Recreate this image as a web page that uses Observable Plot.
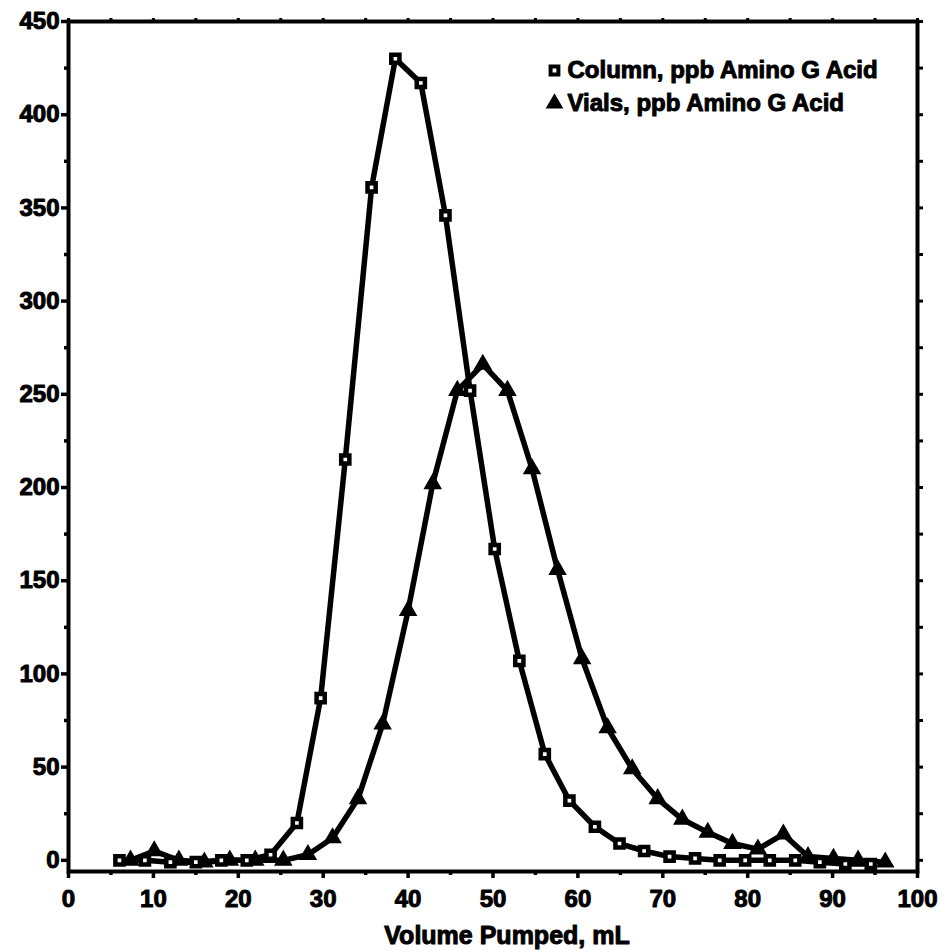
<!DOCTYPE html>
<html>
<head>
<meta charset="utf-8">
<script src="https://cdn.jsdelivr.net/npm/d3@7"></script>
<script src="https://cdn.jsdelivr.net/npm/@observablehq/plot@0.6"></script>
<style>
  html, body { margin: 0; padding: 0; background: #fff; }
  svg text { stroke: #000; stroke-width: 1px; stroke-linejoin: round; }
</style>
</head>
<body>
<div id="chart"></div>
<script>
// Column, ppb Amino G Acid (squares)
const columnVolume = [6, 9, 12, 15, 18, 21, 23.8, 26.9, 29.7, 32.6, 35.7, 38.5, 41.5, 44.4, 47.3, 50.2, 53.1, 56.1, 59, 62, 64.9, 67.8, 70.8, 73.8, 76.7, 79.7, 82.6, 85.6, 88.5, 91.5, 94.5];
const columnPpb    = [0, 0, -1, -1, 0, 0, 3, 20, 87, 215, 361, 430, 417, 346, 252, 167, 107, 57, 32, 18, 9, 5, 2, 1, 0, 0, 0, 0, -1, -2, -2];
// Vials, ppb Amino G Acid (triangles)
const vialsVolume = [7.3, 10.1, 13, 16, 19, 22, 25.3, 28.2, 31.1, 34.1, 37, 40, 42.9, 45.8, 48.8, 51.7, 54.6, 57.6, 60.5, 63.5, 66.4, 69.4, 72.3, 75.3, 78.2, 81.2, 84.2, 87.1, 90.1, 93, 96.2];
const vialsPpb    = [0, 5, 0, -1, 0, 0, 0, 3, 12, 33, 73, 134, 202, 252, 266, 252, 210, 156, 108, 71, 49, 33, 22, 15, 9, 6, 14, 2, 1, 0, -1];

const xMajor = [0, 10, 20, 30, 40, 50, 60, 70, 80, 90, 100];
const xMinor = [5, 15, 25, 35, 45, 55, 65, 75, 85, 95];
const yMajor = [0, 50, 100, 150, 200, 250, 300, 350, 400, 450];
const yMinor = [25, 75, 125, 175, 225, 275, 325, 375, 425];

const seriesNames = ["Column, ppb Amino G Acid", "Vials, ppb Amino G Acid"];
const xTitle = "Volume Pumped, mL";

const column = columnVolume.map((v, i) => ({x: v, y: columnPpb[i]}));
const vials = vialsVolume.map((v, i) => ({x: v, y: vialsPpb[i]}));

const font = "'Liberation Sans', Arial, sans-serif";

const chart = Plot.plot({
  width: 941,
  height: 950,
  marginLeft: 68,
  marginRight: 24,
  marginTop: 21,
  marginBottom: 79,
  style: {fontFamily: font, fontSize: "24px", fontWeight: "bold", color: "#000", background: "#fff"},
  x: {domain: [0, 100], axis: null},
  y: {domain: [-6, 450], axis: null},
  marks: [
    // bottom axis
    Plot.axisX({anchor: "bottom", ticks: xMajor, tickSize: 7, tickPadding: 11, strokeWidth: 3.5, label: null, fontSize: 24}),
    Plot.axisX({anchor: "bottom", ticks: xMinor, tickSize: 4, text: null, strokeWidth: 3.5, label: null}),
    // top axis ticks
    Plot.axisX({anchor: "top", ticks: xMajor.concat(xMinor), tickSize: 4, text: null, strokeWidth: 3, label: null}),
    // left axis
    Plot.axisY({anchor: "left", ticks: yMajor, tickSize: 7, tickPadding: 2, strokeWidth: 3.5, label: null, fontSize: 24}),
    Plot.axisY({anchor: "left", ticks: yMinor, tickSize: 4, text: null, strokeWidth: 3.5, label: null}),
    // right axis ticks
    Plot.axisY({anchor: "right", ticks: yMajor.concat(yMinor), tickSize: 5, text: null, strokeWidth: 3, label: null}),
    Plot.frame({stroke: "#000", strokeWidth: 4}),
    // data lines
    Plot.line(column, {x: "x", y: "y", stroke: "#000", strokeWidth: 5.5}),
    Plot.line(vials, {x: "x", y: "y", stroke: "#000", strokeWidth: 5.5}),
    // markers
    Plot.dot(vials, {x: "x", y: "y", symbol: "triangle", r: 5.6, fill: "#000", stroke: "#000", strokeWidth: 2}),
    Plot.dot(column, {x: "x", y: "y", symbol: "square", r: 4.6, fill: "#fff", stroke: "#000", strokeWidth: 4.5}),
    // legend
    Plot.dot([seriesNames[0]], {frameAnchor: "top-left", dx: 486, dy: 49, symbol: "square", r: 4.4, fill: "#fff", stroke: "#000", strokeWidth: 4}),
    Plot.dot([seriesNames[1]], {frameAnchor: "top-left", dx: 486, dy: 82, symbol: "triangle", r: 5.6, fill: "#000", stroke: "#000", strokeWidth: 1.5}),
    Plot.text([seriesNames[0]], {text: d => d, frameAnchor: "top-left", dx: 499, dy: 49, textAnchor: "start", lineAnchor: "middle", fontSize: 24, fontWeight: "bold"}),
    Plot.text([seriesNames[1]], {text: d => d, frameAnchor: "top-left", dx: 499, dy: 82, textAnchor: "start", lineAnchor: "middle", fontSize: 24, fontWeight: "bold"}),
    // x axis title
    Plot.text([xTitle], {text: d => d, frameAnchor: "bottom", dy: 72, dx: 14, lineAnchor: "bottom", fontSize: 25, fontWeight: "bold"})
  ]
});

document.getElementById("chart").appendChild(chart);
</script>
</body>
</html>
